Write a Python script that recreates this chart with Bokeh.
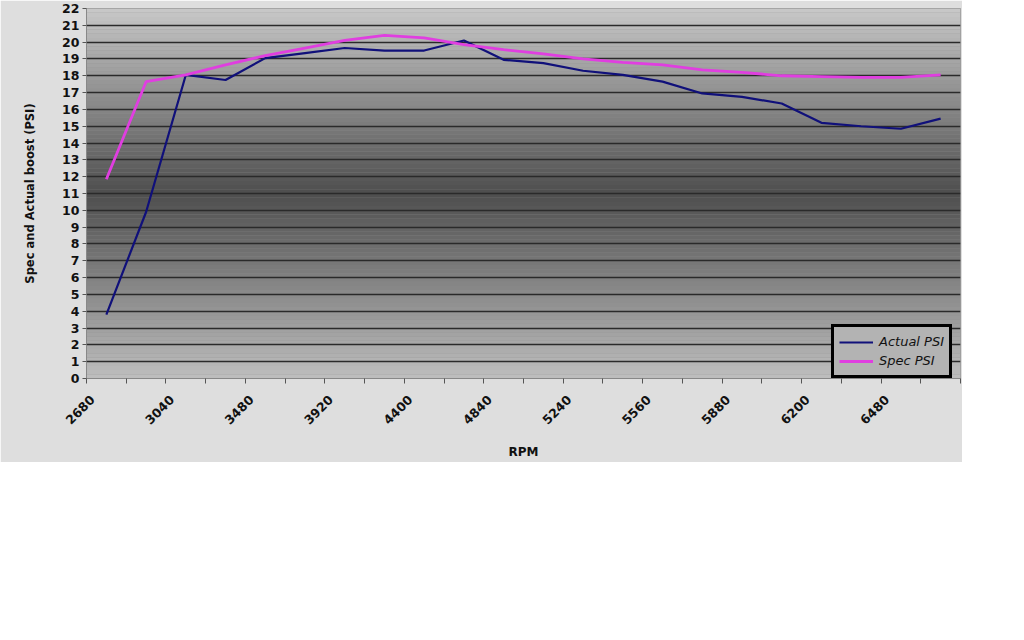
import numpy as np
from bokeh.plotting import figure
from bokeh.models import (Range1d, FixedTicker, Legend, LegendItem)
from bokeh.embed import file_html
from bokeh.resources import INLINE

# ---- data ----
rpm_labels = ["2680", "3040", "3480", "3920", "4400", "4840",
              "5240", "5560", "5880", "6200", "6480"]
actual_psi = [3.8, 9.9, 18.05, 17.75, 19.05, 19.35, 19.65, 19.5, 19.5, 20.1, 18.95,
              18.75, 18.3, 18.05, 17.65, 16.95, 16.75, 16.35, 15.2, 15.0, 14.85, 15.45]
spec_psi = [11.85, 17.65, 18.05, 18.65, 19.2, 19.65, 20.1, 20.4, 20.25, 19.85, 19.55,
            19.3, 19.0, 18.8, 18.65, 18.35, 18.2, 18.0, 17.95, 17.9, 17.9, 18.05]
y_ticks = list(range(0, 23))

n = len(actual_psi)
xs = list(range(n))

FONT = "DejaVu Sans"

p = figure(width=962, height=462, output_backend="svg", toolbar_location=None,
           x_range=Range1d(-0.5, n - 0.5), y_range=Range1d(0, 22),
           min_border_left=86, min_border_right=2, min_border_top=8, min_border_bottom=80)
p.border_fill_color = "#dedede"
p.background_fill_color = "#909090"
p.outline_line_color = "#9a9a9a"

# gradient plot-area background (decoration)
edges = np.linspace(0, 22, 89)
mid = 11.0
cols = []
for lo, hi in zip(edges[:-1], edges[1:]):
    c = (lo + hi) / 2
    if c >= mid:
        t = (c - mid) / (22 - mid)
        v = 78 + (200 - 78) * t
    else:
        t = (mid - c) / mid
        v = 78 + (190 - 78) * t
    v = int(round(v))
    cols.append("#%02x%02x%02x" % (v, v, v))
p.quad(left=-0.5, right=n - 0.5, bottom=edges[:-1], top=edges[1:],
       fill_color=cols, line_color=None, level="image")

# grid
p.xgrid.visible = False
p.ygrid.ticker = FixedTicker(ticks=y_ticks)
p.ygrid.grid_line_color = "#2a2a2a"
p.ygrid.grid_line_width = 1.4

# lines
r_act = p.line(xs, actual_psi, line_color="#10107a", line_width=2.2)
r_spec = p.line(xs, spec_psi, line_color="#e03ee0", line_width=2.8)

# axes
xa = p.xaxis[0]
label_pos = [2 * i - 0.35 for i in range(len(rpm_labels))]
xa.ticker = FixedTicker(ticks=label_pos, minor_ticks=[i - 0.5 for i in range(n + 1)])
xa.major_label_overrides = {pos: lab for pos, lab in zip(label_pos, rpm_labels)}
xa.major_label_orientation = np.pi / 4
xa.major_tick_out = 0
xa.major_tick_in = 0
xa.minor_tick_out = 5
xa.minor_tick_in = 0
xa.minor_tick_line_color = "#555555"
xa.axis_line_color = "#888888"
xa.major_label_text_font = FONT
xa.major_label_text_font_style = "bold"
xa.major_label_text_font_size = "12.5px"
xa.major_label_text_color = "#111111"
xa.major_label_standoff = 14
xa.axis_label = "RPM"
xa.axis_label_text_font = FONT
xa.axis_label_text_font_style = "bold"
xa.axis_label_text_font_size = "12px"
xa.axis_label_text_color = "#111111"
xa.axis_label_standoff = 14

ya = p.yaxis[0]
ya.ticker = FixedTicker(ticks=y_ticks)
ya.major_tick_out = 4
ya.major_tick_in = 0
ya.minor_tick_out = 0
ya.major_tick_line_color = "#555555"
ya.axis_line_color = "#888888"
ya.major_label_text_font = FONT
ya.major_label_text_font_style = "bold"
ya.major_label_text_font_size = "12.5px"
ya.major_label_text_color = "#111111"
ya.major_label_standoff = 3
ya.axis_label = "Spec and Actual boost (PSI)"
ya.axis_label_text_font = FONT
ya.axis_label_text_font_style = "bold"
ya.axis_label_text_font_size = "11.5px"
ya.axis_label_text_color = "#111111"
ya.axis_label_standoff = 22

legend = Legend(items=[LegendItem(label="Actual PSI", renderers=[r_act]),
                       LegendItem(label="Spec PSI", renderers=[r_spec])],
                location=(745, 0))
legend.label_text_font = FONT
legend.label_text_font_style = "italic"
legend.label_text_font_size = "13px"
legend.label_text_color = "#111111"
legend.background_fill_color = "#b3b3b3"
legend.background_fill_alpha = 1.0
legend.border_line_color = "#000000"
legend.border_line_alpha = 1.0
legend.border_line_width = 3
legend.padding = 5
legend.spacing = 0
legend.margin = 0
legend.glyph_width = 34
legend.glyph_height = 14
legend.label_height = 19
legend.label_standoff = 6
p.add_layout(legend, "center")

open("out.html", "w").write(file_html(p, INLINE))
